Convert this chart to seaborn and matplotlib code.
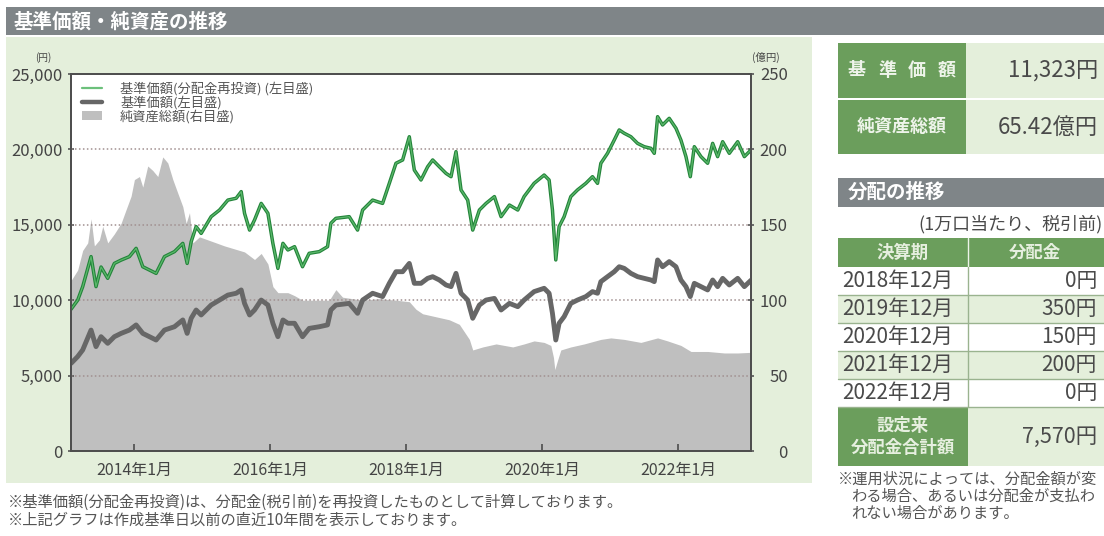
import numpy as np
import pandas as pd
import matplotlib
matplotlib.use("Agg")
import matplotlib.pyplot as plt
import seaborn as sns
from matplotlib.lines import Line2D
from matplotlib.patches import Patch, Rectangle
import matplotlib.patheffects as pe

# ---------------- data ----------------
line_years = [2013.067, 2013.165, 2013.239, 2013.362, 2013.435, 2013.509, 2013.607, 2013.705, 2013.804, 2013.926,
              2014.025, 2014.123, 2014.221, 2014.319, 2014.442, 2014.589, 2014.712, 2014.776, 2014.835, 2014.908,
              2014.982, 2015.129, 2015.252, 2015.375, 2015.497, 2015.571, 2015.620, 2015.694, 2015.767, 2015.865,
              2015.964, 2016.037, 2016.111, 2016.185, 2016.258, 2016.356,
              2016.473, 2016.571, 2016.719, 2016.841, 2016.890, 2016.964, 2017.160, 2017.283, 2017.357, 2017.504,
              2017.651, 2017.750, 2017.848, 2017.946, 2018.044, 2018.118, 2018.216, 2018.314, 2018.388, 2018.486,
              2018.584, 2018.658, 2018.731, 2018.805, 2018.903, 2018.977, 2019.075, 2019.173, 2019.296, 2019.394,
              2019.517, 2019.640,
              2019.733, 2019.880, 2020.028, 2020.101, 2020.150, 2020.199, 2020.248, 2020.322, 2020.420, 2020.518,
              2020.641, 2020.739, 2020.813, 2020.862, 2020.960, 2021.059, 2021.132, 2021.206, 2021.304, 2021.402,
              2021.500, 2021.599, 2021.648, 2021.697, 2021.770, 2021.868, 2021.967, 2022.040, 2022.114, 2022.178,
              2022.237, 2022.335, 2022.433, 2022.507, 2022.580, 2022.654, 2022.752, 2022.875, 2022.973, 2023.071]

nav_reinvested = [9400, 10000, 10900, 12890, 10900, 12200, 11450, 12440, 12660, 12890,
                  13440, 12220, 12000, 11780, 12890, 13220, 13770, 12440, 13880, 14880,
                  14430, 15540, 15980, 16640, 16760, 17200, 15760, 14650, 15320, 16420,
                  15760, 13770, 12110, 13770, 13330, 13550,
                  12220, 13110, 13220, 13550, 15100, 15430, 15540, 14650, 15980, 16640,
                  16420, 17750, 19080, 19300, 20840, 18630, 17970, 18850, 19300, 18850,
                  18410, 18190, 19850, 17310, 16640, 14650, 15980, 16420, 16870, 15540,
                  16310, 15980,
                  16870, 17750, 18300, 17970, 15980, 12670, 14880, 15540, 16870, 17310,
                  17750, 18190, 17750, 19080, 19740, 20620, 21290, 21070, 20840, 20400,
                  20180, 20070, 19740, 22170, 21620, 22060, 21400, 20620, 19520, 18190,
                  20180, 19520, 19080, 20400, 19520, 20510, 19740, 20510, 19520, 19960]

nav_price = [5810, 6260, 6700, 8020, 6920, 7580, 7140, 7580, 7800, 8020,
             8360, 7800, 7580, 7360, 8020, 8240, 8690, 7800, 8800, 9350,
             9020, 9680, 10010, 10340, 10460, 10680, 9790, 9020, 9350, 10010,
             9680, 8470, 7580, 8690, 8470, 8470,
             7580, 8130, 8240, 8360, 9350, 9680, 9790, 9130, 10010, 10460,
             10240, 11120, 11890, 11890, 12440, 11120, 11120, 11450, 11560, 11340,
             11010, 10900, 11780, 10460, 10010, 8800, 9680, 10010, 10120, 9350,
             9790, 9570,
             10010, 10570, 10790, 10460, 9130, 7360, 8470, 8910, 9790, 10010,
             10240, 10570, 10460, 11230, 11560, 11890, 12220, 12110, 11780, 11560,
             11450, 11340, 11230, 12670, 12220, 12560, 12220, 11340, 10900, 10240,
             11120, 10900, 10680, 11340, 10900, 11450, 11010, 11450, 10900, 11323]

asset_years = [2013.067, 2013.165, 2013.239, 2013.313, 2013.362, 2013.411, 2013.485, 2013.534, 2013.607, 2013.705,
               2013.804, 2013.877, 2013.951, 2014.000, 2014.074, 2014.123, 2014.196, 2014.270, 2014.344, 2014.417,
               2014.491, 2014.565, 2014.638, 2014.712, 2014.761, 2014.810, 2014.859, 2014.957, 2015.080, 2015.203,
               2015.325, 2015.473, 2015.620, 2015.767, 2015.865, 2015.964, 2016.037, 2016.111, 2016.258, 2016.356,
               2016.473, 2016.669, 2016.866, 2016.964, 2017.062, 2017.357, 2017.602, 2017.848, 2018.044, 2018.142,
               2018.240, 2018.437, 2018.633, 2018.780, 2018.854, 2018.928, 2018.977, 2019.124, 2019.321, 2019.566,
               2019.733, 2019.880, 2020.028, 2020.126, 2020.165, 2020.185, 2020.224, 2020.273, 2020.420, 2020.617,
               2020.862, 2021.009, 2021.206, 2021.451, 2021.697, 2021.844, 2022.040, 2022.188, 2022.433, 2022.679,
               2022.875, 2023.071]

net_assets = [113, 120, 133, 138, 154, 136, 140, 149, 138, 144,
              151, 160, 169, 180, 182, 175, 189, 186, 182, 195,
              191, 180, 171, 162, 151, 158, 138, 142, 140, 138,
              136, 134, 132, 127, 131, 124, 109, 105, 105, 103,
              100, 100, 100, 107, 102, 100, 101, 100, 99, 94,
              91, 89, 87, 84, 79, 74, 67, 69, 71, 69,
              71, 73, 72, 70, 62, 54, 60, 67, 69, 71,
              74, 75, 74, 72, 75, 73, 70, 66, 66, 65,
              65, 65.42]

x_ticks = [2014, 2016, 2018, 2020, 2022]
x_tick_labels = ["2014年1月", "2016年1月", "2018年1月", "2020年1月", "2022年1月"]
left_ticks = [0, 5000, 10000, 15000, 20000, 25000]
right_ticks = [0, 50, 100, 150, 200, 250]

legend_labels = ["基準価額(分配金再投資) (左目盛)", "基準価額(左目盛)", "純資産総額(右目盛)"]

dist_periods = ["2018年12月", "2019年12月", "2020年12月", "2021年12月", "2022年12月"]
dist_values = ["0円", "350円", "150円", "200円", "0円"]
total_dist = "7,570円"
latest_nav = "11,323円"
latest_assets = "65.42億円"

# ---------------- style ----------------
sns.set_theme(style="white")
plt.rcParams["font.family"] = ["Noto Sans CJK JP", "DejaVu Sans"]

GREEN_BOX = "#6b9e5c"
LIGHT_GREEN = "#e4efdb"
BAR_GRAY = "#7f8588"
TXT = "#444444"

W, H = 1104, 536
fig = plt.figure(figsize=(W / 100, H / 100), dpi=100)
fig.patch.set_facecolor("white")

bg = fig.add_axes([0, 0, 1, 1], zorder=-5)
bg.set_xlim(0, W)
bg.set_ylim(H, 0)
bg.axis("off")


def rect(x0, y0, x1, y1, color, z=1):
    bg.add_patch(Rectangle((x0, y0), x1 - x0, y1 - y0, facecolor=color, edgecolor="none", zorder=z))


# title bar + panel
rect(6, 7, W, 35, BAR_GRAY)
bg.text(14, 21.5, "基準価額・純資産の推移", color="white", fontsize=14, fontweight="bold", va="center", ha="left")
rect(6, 37, 812, 483, LIGHT_GREEN)

# ---------------- chart ----------------
L, R, T, B = 71, 751, 74, 451
ax = fig.add_axes([L / W, (H - B) / H, (R - L) / W, (B - T) / H])
ax2 = ax.twinx()
ax.set_zorder(ax2.get_zorder() + 1)
ax.patch.set_visible(False)
ax2.patch.set_facecolor("white")
ax2.patch.set_visible(True)

ax2.fill_between(asset_years, net_assets, 0, color="#bfbfbf", linewidth=0)
ax2.set_ylim(0, 250)

df = pd.DataFrame({"year": line_years, "reinv": nav_reinvested, "nav": nav_price})
sns.lineplot(data=df, x="year", y="nav", ax=ax, color="#676767", linewidth=3.5, legend=False)
sns.lineplot(data=df, x="year", y="reinv", ax=ax, color="#5bb86b", linewidth=0.9, legend=False)
ax.lines[-1].set_path_effects([pe.Stroke(linewidth=2.5, foreground="#23843a"), pe.Normal()])

ax.set_xlim(line_years[0], line_years[-1])
ax.set_ylim(0, 25000)
ax.set_xlabel("")
ax.set_ylabel("")
ax2.set_ylabel("")

ax.set_xticks(x_ticks)
ax.set_xticklabels(x_tick_labels)
ax.set_yticks(left_ticks)
ax.set_yticklabels([f"{v:,}" for v in left_ticks])
ax2.set_yticks(right_ticks)
ax2.set_yticklabels([str(v) for v in right_ticks])

ax.tick_params(axis="x", direction="in", length=5, width=1.3, color="#555555", pad=8,
               labelsize=11.5, labelcolor=TXT, bottom=True)
ax.tick_params(axis="y", direction="inout", length=5, width=1.2, color="#555555", pad=3.5,
               labelsize=12, labelcolor=TXT, left=True)
ax2.tick_params(axis="y", direction="inout", length=5, width=1.2, color="#555555", pad=24,
                labelsize=12, labelcolor=TXT, right=True)
for tl in ax2.get_yticklabels():
    tl.set_horizontalalignment("right")

ax.set_axisbelow(True)
for v in left_ticks[1:-1]:
    ax.axhline(v, color="#a08f8f", linewidth=1.1, linestyle=(0, (1, 1.6)), zorder=1.5)

for a in (ax, ax2):
    for s in a.spines.values():
        s.set_color("#4e4e4e")
        s.set_linewidth(1.3)

handles = [Line2D([], [], color="#6cc07b", linewidth=1.6),
           Line2D([], [], color="#666666", linewidth=3.2),
           Patch(facecolor="#bfbfbf", edgecolor="none")]
ax.legend(handles, legend_labels, loc="upper left", bbox_to_anchor=(0.016, 0.98), frameon=False,
          fontsize=9.5, labelcolor="#555555", handlelength=1.5, handleheight=0.7, labelspacing=0.0,
          handletextpad=1.4, borderpad=0, borderaxespad=0)

bg.text(43, 58, "(円)", fontsize=7, color=TXT, ha="center", va="center")
bg.text(766, 57, "(億円)", fontsize=7.5, color=TXT, ha="center", va="center")

# ---------------- right panel ----------------
rect(838, 43, 966, 98, GREEN_BOX)
rect(966, 43, W, 98, LIGHT_GREEN)
rect(838, 100, 966, 154, GREEN_BOX)
rect(966, 100, W, 154, LIGHT_GREEN)
for ch, cx in zip("基準価額", [857, 887, 917, 947]):
    bg.text(cx, 70, ch, color="#eef4ea", fontsize=13, fontweight="bold", ha="center", va="center")
bg.text(902, 127, "純資産総額", color="#eef4ea", fontsize=13, fontweight="bold", ha="center", va="center")
bg.text(1098, 70, latest_nav, color="#4a4a4a", fontsize=16, ha="right", va="center")
bg.text(1098, 127, latest_assets, color="#4a4a4a", fontsize=16, ha="right", va="center")

rect(838, 178, W, 207, BAR_GRAY)
bg.text(848, 192.5, "分配の推移", color="white", fontsize=14, fontweight="bold", ha="left", va="center")
bg.text(918, 224, "(1万口当たり、税引前)", color="#4a4a4a", fontsize=13, ha="left", va="center")

rect(838, 238, W, 267, GREEN_BOX)
bg.plot([968, 968], [238, 267], color="#eef4ea", linewidth=1, zorder=2)
bg.text(903, 252.5, "決算期", color="#e6efdf", fontsize=12.5, fontweight="bold", ha="center", va="center")
bg.text(1035, 252.5, "分配金", color="#e6efdf", fontsize=12.5, fontweight="bold", ha="center", va="center")

row_h = 28
for i, (per, val) in enumerate(zip(dist_periods, dist_values)):
    y0 = 267 + i * row_h
    if i % 2 == 1:
        rect(838, y0, W, y0 + row_h, LIGHT_GREEN)
    bg.plot([838, W], [y0 + row_h, y0 + row_h], color="#9ab38f", linewidth=1, zorder=2)
    bg.text(842, y0 + row_h / 2, per, color="#4a4a4a", fontsize=15, ha="left", va="center")
    bg.text(1097, y0 + row_h / 2, val, color="#4a4a4a", fontsize=15, ha="right", va="center")
bg.plot([968, 968], [267, 407], color="#9ab38f", linewidth=1, zorder=2)

rect(838, 408, 968, 466, GREEN_BOX)
rect(968, 408, W, 466, LIGHT_GREEN)
bg.text(903, 426, "設定来", color="#e6efdf", fontsize=12.5, fontweight="bold", ha="center", va="center")
bg.text(903, 448, "分配金合計額", color="#e6efdf", fontsize=12.5, fontweight="bold", ha="center", va="center")
bg.text(1097, 437, total_dist, color="#4a4a4a", fontsize=15.5, ha="right", va="center")

bg.text(838, 479, "※運用状況によっては、分配金額が変", color="#555555", fontsize=11, ha="left", va="center")
bg.text(851, 496, "わる場合、あるいは分配金が支払わ", color="#555555", fontsize=11, ha="left", va="center")
bg.text(851, 513, "れない場合があります。", color="#555555", fontsize=11, ha="left", va="center")

# ---------------- footnotes ----------------
bg.text(8, 502, "※基準価額(分配金再投資)は、分配金(税引前)を再投資したものとして計算しております。",
        color="#555555", fontsize=11, ha="left", va="center")
bg.text(8, 520, "※上記グラフは作成基準日以前の直近10年間を表示しております。",
        color="#555555", fontsize=11, ha="left", va="center")

fig.savefig("out.png", dpi=100, facecolor="white")
